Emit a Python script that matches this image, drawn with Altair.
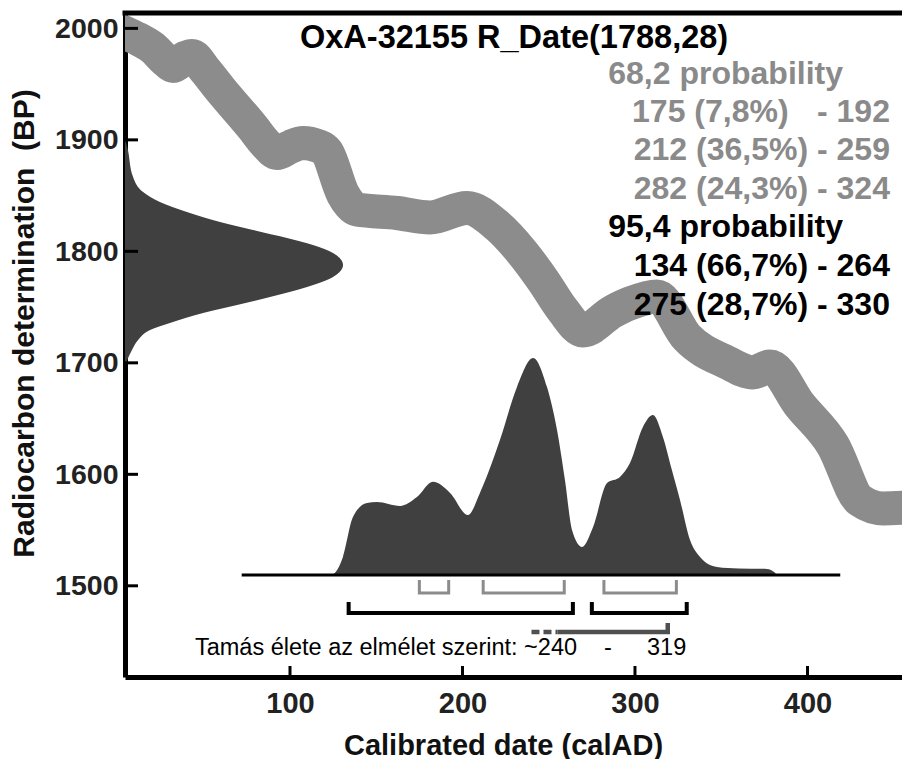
import altair as alt
import pandas as pd

# ---------------- data ----------------
# calibration curve (centre line)
curve_year = [0.0, 4.3, 13.0, 20.6, 27.5, 32.2, 39.1, 43.2, 50.7, 59.4, 78.6, 85.5, 92.5,
              100.0, 107.5, 116.2, 121.4, 130.7, 138.8, 162.0, 181.2, 202.6, 220.0, 235.1,
              246.7, 258.3, 269.9, 287.2, 297.1, 312.8, 330.1, 353.3, 368.4, 378.3, 395.7,
              414.8, 430.4, 443.8, 459.4]
curve_bp = [1999.0, 1996.0, 1989.6, 1982.4, 1971.7, 1966.3, 1973.5, 1975.3, 1962.7, 1945.7,
            1910.7, 1897.2, 1888.3, 1893.6, 1897.2, 1894.5, 1889.2, 1851.5, 1837.5, 1834.4,
            1830.4, 1838.9, 1823.2, 1798.1, 1773.9, 1747.0, 1729.1, 1746.1, 1753.3, 1759.6,
            1722.8, 1700.4, 1691.4, 1696.8, 1661.8, 1625.9, 1576.6, 1569.4, 1570.3]

# radiocarbon measurement distribution (relative probability)
rc_bp = [1900.0, 1893.6, 1866.7, 1853.2, 1844.3, 1835.3, 1826.3, 1819.2, 1812.0, 1805.7,
         1798.5, 1787.8, 1777.0, 1768.0, 1759.0, 1751.9, 1744.7, 1735.7, 1729.4, 1720.5,
         1711.5, 1702.5, 1698.0]
rc_prob = [0.0, 0.01, 0.037, 0.083, 0.16, 0.284, 0.436, 0.587, 0.743, 0.862, 0.954, 1.0,
           0.954, 0.835, 0.665, 0.514, 0.358, 0.206, 0.115, 0.06, 0.032, 0.01, 0.0]

# calibrated date distribution (relative probability)
cal_year = [124.0, 126.1, 130.7, 136.5, 144.6, 150.4, 163.8, 173.6, 182.9, 192.8, 203.2,
            210.1, 221.7, 231.6, 240.9, 249.0, 254.8, 259.4, 263.5, 269.3, 275.7, 283.8,
            291.3, 297.1, 304.6, 310.4, 316.2, 321.4, 326.1, 331.9, 337.7, 347.5, 360.0,
            376.5, 381.2, 382.0]
cal_prob = [0.0, 0.01, 0.083, 0.267, 0.332, 0.336, 0.318, 0.359, 0.429, 0.378, 0.276, 0.378,
            0.622, 0.866, 1.0, 0.866, 0.668, 0.438, 0.207, 0.129, 0.221, 0.424, 0.452, 0.516,
            0.682, 0.737, 0.636, 0.484, 0.346, 0.161, 0.083, 0.037, 0.03, 0.028, 0.01, 0.0]

# highest probability density ranges
hpd68_from = [175, 212, 282]
hpd68_to = [192, 259, 324]
hpd95_from = [134, 275]
hpd95_to = [264, 330]
# Tamás élete (dashed start, solid part, end)
life_years = [240, 255, 319]

x_ticks = [100, 200, 300, 400]
y_ticks = [1500, 1600, 1700, 1800, 1900, 2000]

title_text = "OxA-32155 R_Date(1788,28)"
lines_gray = ["68,2 probability", "175 (7,8%)", "- 192", "212 (36,5%) - 259", "282 (24,3%) - 324"]
lines_black = ["95,4 probability", "134 (66,7%) - 264", "275 (28,7%) - 330"]
life_text = ["Tamás élete az elmélet szerint: ~240", "-", "319"]

# ---------------- layout ----------------
X_MIN, X_MAX = 4.35, 454.8
Y_MIN, Y_MAX = 1418.2, 2013.8
W, H = 777, 664
CAL_BASE, CAL_H = 1509.7, 194.7
RC_W = 126.4
FONT = "Liberation Sans"

xs = alt.Scale(domain=[X_MIN, X_MAX], nice=False, zero=False)
ys = alt.Scale(domain=[Y_MIN, Y_MAX], nice=False, zero=False)

AX = alt.Axis(
    values=x_ticks, format="d", ticks=False, grid=False, domainWidth=5, domainColor="black",
    labelFont=FONT, labelFontSize=29, labelFontWeight="bold", labelColor="#222",
    labelPadding=12, labelFlush=False, title="Calibrated date (calAD)", titleFont=FONT,
    titleFontSize=29, titleFontWeight="bold", titleColor="#111",
    titleX=378, titleY=68, titleBaseline="middle", titleAlign="center")
AY = alt.Axis(
    values=y_ticks, format="d", ticks=False, grid=False, domainWidth=5, domainColor="black",
    labelFont=FONT, labelFontSize=28.5, labelFontWeight="bold", labelColor="#222",
    labelPadding=7, labelFlush=False, title="Radiocarbon determination \u00a0(BP)",
    titleFont=FONT, titleFontSize=30, titleFontWeight="bold", titleColor="#111",
    titleX=-101, titleY=310, titleBaseline="middle", titleAlign="center")


def X(field="x"):
    return alt.X(f"{field}:Q", scale=xs, axis=AX)


def Y(field="y"):
    return alt.Y(f"{field}:Q", scale=ys, axis=AY)


curve_df = pd.DataFrame({"x": curve_year, "y": curve_bp})
rc_df = pd.DataFrame({"y": rc_bp, "p": rc_prob})
cal_df = pd.DataFrame({"x": cal_year, "p": cal_prob})

curve = alt.Chart(curve_df).mark_line(
    color="#8c8c8c", strokeWidth=34, strokeJoin="round", strokeCap="butt",
    interpolate="monotone", clip=True
).encode(x=X(), y=Y(), order="x:Q")

rc_area = alt.Chart(rc_df).transform_calculate(
    x=f"{X_MIN} + datum.p * {RC_W}", x0=f"{X_MIN}"
).mark_area(orient="horizontal", color="#404040", interpolate="monotone").encode(
    y=Y(), x=X(), x2="x0:Q"
)

cal_area = alt.Chart(cal_df).transform_calculate(
    y=f"{CAL_BASE} + datum.p * {CAL_H}", y0=f"{CAL_BASE}"
).mark_area(color="#404040", interpolate="monotone").encode(
    x=X(), y=Y(), y2="y0:Q"
)

baseline = alt.Chart(pd.DataFrame({"x": [72.0], "x2": [419.0], "y": [CAL_BASE]})).mark_rule(
    color="black", strokeWidth=3).encode(x=X(), x2="x2:Q", y=Y())


def bracket_df(froms, tos, top, bot):
    rows = []
    for i, (a, b) in enumerate(zip(froms, tos)):
        rows += [(i, 0, a, top), (i, 1, a, bot), (i, 2, b, bot), (i, 3, b, top)]
    return pd.DataFrame(rows, columns=["id", "o", "x", "y"])


br68 = alt.Chart(bracket_df(hpd68_from, hpd68_to, 1505.2, 1493.5)).mark_line(
    color="#8c8c8c", strokeWidth=3).encode(x=X(), y=Y(), detail="id:N", order="o:Q")
br95 = alt.Chart(bracket_df(hpd95_from, hpd95_to, 1485.5, 1475.6)).mark_line(
    color="black", strokeWidth=4).encode(x=X(), y=Y(), detail="id:N", order="o:Q")

life_solid = alt.Chart(pd.DataFrame({
    "x": [life_years[1], life_years[2], life_years[2]],
    "y": [1458.6, 1458.6, 1466.6], "o": [0, 1, 2]})).mark_line(
    color="#505050", strokeWidth=4.5).encode(x=X(), y=Y(), order="o:Q")
life_dash = alt.Chart(pd.DataFrame({
    "x": [life_years[0], life_years[1]], "y": [1458.6, 1458.6]})).mark_line(
    color="#505050", strokeWidth=4.5, strokeDash=[8, 4]).encode(x=X(), y=Y())

# axis ticks (drawn inward)
yt = alt.Chart(pd.DataFrame({"y": y_ticks})).mark_rule(color="black", strokeWidth=3).encode(
    y=Y(), x=alt.value(0), x2=alt.value(13))
xt = alt.Chart(pd.DataFrame({"x": x_ticks})).mark_rule(color="black", strokeWidth=3).encode(
    x=X(), y=alt.value(H), y2=alt.value(H - 11))
top_border = alt.Chart(pd.DataFrame({"a": [0]})).mark_rule(color="black", strokeWidth=5).encode(
    x=alt.value(-2.5), x2=alt.value(W), y=alt.value(0))


def text_layer(texts, xv, yv, color, align, size, weight="bold"):
    df = pd.DataFrame({"t": texts, "x": xv, "y": yv})
    return alt.Chart(df).mark_text(
        align=align, baseline="middle", font=FONT, fontSize=size,
        fontWeight=weight, color=color).encode(x=X(), y=Y(), text="t:N")


RIGHT = 447.8
SZ = 32
t_title = text_layer([title_text], [105.8], [1991.4], "black", "left", 32.5)
t_g_right = text_layer([lines_gray[0]], [420.6], [1959.5], "#8a8a8a", "right", SZ)
t_g_left = text_layer([lines_gray[1]], [298.3], [1925.0], "#8a8a8a", "left", SZ)
t_g_rr = text_layer(lines_gray[2:], [RIGHT] * 3, [1925.0, 1890.5, 1855.9], "#8a8a8a", "right", SZ)
t_b_head = text_layer([lines_black[0]], [420.6], [1821.4], "black", "right", SZ)
t_b_rr = text_layer(lines_black[1:], [RIGHT] * 2, [1786.9, 1752.3], "black", "right", SZ)
t_life1 = text_layer([life_text[0]], [44.9], [1444.2], "black", "left", 23.5, "normal")
t_life2 = text_layer([life_text[1]], [284.3], [1444.2], "black", "center", 23.5, "normal")
t_life3 = text_layer([life_text[2]], [307.0], [1444.2], "black", "left", 23.5, "normal")

chart = alt.layer(
    curve, rc_area, cal_area, baseline, br68, br95, life_dash, life_solid,
    yt, xt, top_border,
    t_title, t_g_right, t_g_left, t_g_rr, t_b_head, t_b_rr, t_life1, t_life2, t_life3,
).properties(
    width=W, height=H,
    autosize=alt.AutoSizeParams(type="none"),
    padding={"left": 117, "top": 5, "right": 0, "bottom": 82},
    background="white",
).configure_view(stroke=None)

chart.save("out.html", embed_options={"renderer": "svg", "actions": False})
